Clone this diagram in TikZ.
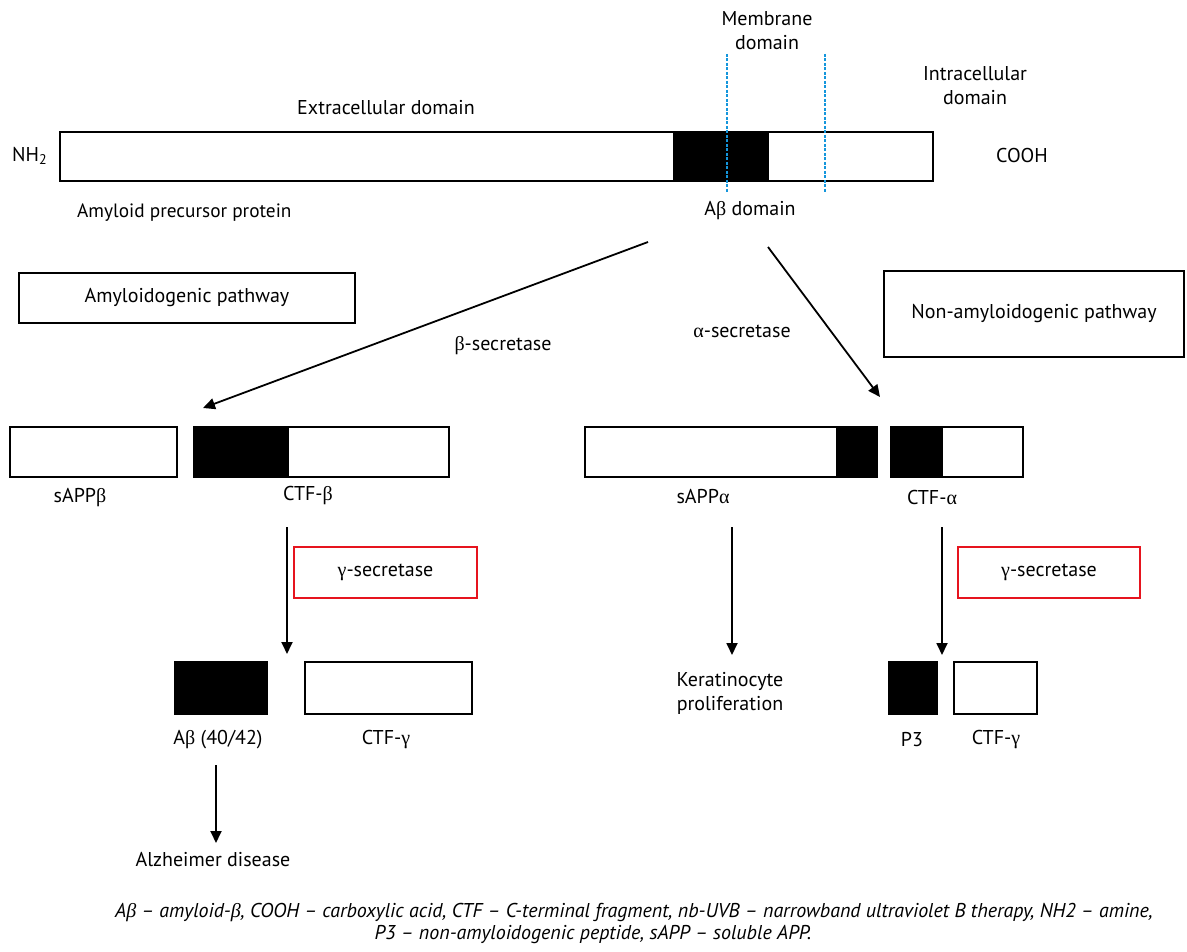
\documentclass[tikz,border=0pt]{standalone}
\usepackage{fontspec}
\setmainfont{PT Sans}
\newfontfamily\grk{Liberation Serif}
\newcommand{\grB}{{\grk β}}
\newcommand{\grA}{{\grk α}}
\newcommand{\grG}{{\grk γ}}
\usetikzlibrary{arrows.meta}
\definecolor{dashblue}{RGB}{20,150,220}
\definecolor{boxred}{RGB}{230,20,30}
\begin{document}
\begin{tikzpicture}[x=1pt,y=-1pt,
 wbox/.style={draw=black, line width=1.6pt, fill=white, inner sep=0pt, outer sep=0pt, anchor=north west},
 bbox/.style={draw=black, line width=1.6pt, fill=black, inner sep=0pt, outer sep=0pt, anchor=north west},
 rbox/.style={draw=boxred, line width=1.4pt, inner sep=0pt, outer sep=0pt, anchor=north west, minimum height=51pt, font=\fontsize{20}{24}\selectfont},
 pbox/.style={draw=black, line width=1.6pt, inner sep=0pt, outer sep=0pt, anchor=north west, font=\fontsize{20}{24}\selectfont},
 lbl/.style={inner sep=0pt, font=\fontsize{20}{24}\selectfont, align=center},
 foottxt/.style={inner sep=0pt, font=\itshape\fontsize{20}{22}\selectfont},
 arr/.style={line width=1.8pt, -{Triangle[width=11pt,length=12pt]}},
 memb/.style={draw=dashblue, line width=1.3pt, dash pattern=on 3pt off 1.5pt}]
\useasboundingbox (0,0) rectangle (1187,952);
\fill[white] (0,0) rectangle (1187,952);

% APP bar
\node[wbox, minimum width=873pt, minimum height=49pt] (app) at (60,132) {};
\node[bbox, minimum width=94pt, minimum height=49pt] (appab) at (674,132) {};
\coordinate (m1t) at (727,54); \coordinate (m1b) at (727,192);
\coordinate (m2t) at (825,54); \coordinate (m2b) at (825,192);
\draw[memb] (m1t) -- (m1b);
\draw[memb] (m2t) -- (m2b);

\node[lbl] (membl) at (767,31) {Membrane\\domain};
\node[lbl] (intra) at (975,86) {Intracellular\\domain};
\node[lbl] (extra) at (386,108) {Extracellular domain};
\node[lbl, anchor=west] (nh2) at (12,156) {NH\textsubscript{2}};
\node[lbl] (cooh) at (1022,156) {COOH};
\node[lbl, anchor=west, font=\fontsize{19.3}{24}\selectfont] (appl) at (77,213) {Amyloid precursor protein};
\node[lbl] (abdom) at (750,211) {A\grB{} domain};

% pathway boxes
\node[pbox, minimum width=336pt, minimum height=50pt] (amy) at (19,273) {Amyloidogenic pathway};
\node[pbox, minimum width=300pt, minimum height=86pt] (nonamy) at (884,271) {Non-amyloidogenic pathway};
\node[lbl] (bsec) at (503,346) {\grB-secretase};
\node[lbl] (asec) at (742,331) {\grA-secretase};

% diagonal arrows
\coordinate (a1s) at (648,242); \coordinate (a1e) at (203,408);
\coordinate (a2s) at (768,247); \coordinate (a2e) at (880,397);
\draw[arr] (a1s) -- (a1e);
\draw[arr] (a2s) -- (a2e);

% second row
\node[wbox, minimum width=167pt, minimum height=50pt] (sappb) at (10,427) {};
\node[wbox, minimum width=255pt, minimum height=50pt] (ctfb) at (194,427) {};
\node[bbox, minimum width=94pt, minimum height=50pt] (ctfbb) at (194,427) {};
\node[wbox, minimum width=292pt, minimum height=50pt] (sappa) at (585,427) {};
\node[bbox, minimum width=40pt, minimum height=50pt] (sappab) at (837,427) {};
\node[wbox, minimum width=132pt, minimum height=50pt] (ctfa) at (891,427) {};
\node[bbox, minimum width=51pt, minimum height=50pt] (ctfab) at (891,427) {};

\node[lbl] (sappbl) at (80,498) {sAPP\grB};
\node[lbl] (ctfbl) at (308,496) {CTF-\grB};
\node[lbl] (sappal) at (703,497) {sAPP\grA};
\node[lbl] (ctfal) at (932,497) {CTF-\grA};

% gamma secretase
\node[rbox, minimum width=183pt] (g1) at (294,547) {\grG-secretase};
\node[rbox, minimum width=182pt] (g2) at (958,547) {\grG-secretase};

% vertical arrows
\coordinate (v1s) at (287,527); \coordinate (v1e) at (287,654);
\coordinate (v2s) at (732,527); \coordinate (v2e) at (732,655);
\coordinate (v3s) at (942,527); \coordinate (v3e) at (942,655);
\coordinate (v4s) at (216,765); \coordinate (v4e) at (216,843);
\draw[arr] (v1s) -- (v1e);
\draw[arr] (v2s) -- (v2e);
\draw[arr] (v3s) -- (v3e);
\draw[arr] (v4s) -- (v4e);

% third row
\node[bbox, minimum width=92pt, minimum height=52pt] (abeta) at (175,662) {};
\node[wbox, minimum width=167pt, minimum height=52pt] (ctfg1) at (305,662) {};
\node[bbox, minimum width=48pt, minimum height=52pt] (p3) at (889,662) {};
\node[wbox, minimum width=83pt, minimum height=52pt] (ctfg2) at (954,662) {};

\node[lbl] (abetal) at (218,740) {A\grB{} (40/42)};
\node[lbl] (ctfg1l) at (386,740) {CTF-\grG};
\node[lbl] (p3l) at (912,740) {P3};
\node[lbl] (ctfg2l) at (996,740) {CTF-\grG};
\node[lbl] (kera) at (730,693) {Keratinocyte\\proliferation};
\node[lbl] (alz) at (213,860) {Alzheimer disease};

% footer
\node[foottxt] (foot1) at (634,913)
 {A\grB{} – amyloid-\grB, COOH – carboxylic acid, CTF – C-terminal fragment, nb-UVB – narrowband ultraviolet B therapy, NH2 – amine,};
\node[foottxt] (foot2) at (593,935)
 {P3 – non-amyloidogenic peptide, sAPP – soluble APP.};
\end{tikzpicture}
\end{document}
